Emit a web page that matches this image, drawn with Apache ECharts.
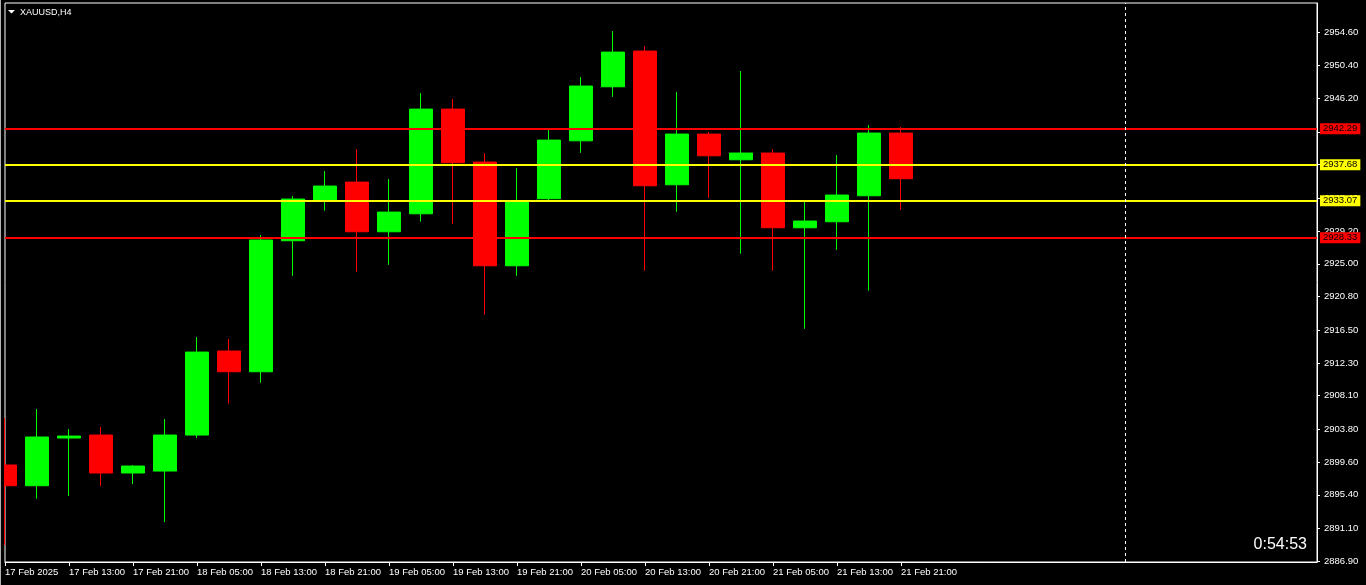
<!DOCTYPE html>
<html><head><meta charset="utf-8">
<script src="https://cdn.jsdelivr.net/npm/echarts@6/dist/echarts.min.js"></script>
<style>html,body{margin:0;padding:0;background:#000;}#c{width:1366px;height:585px;}</style>
</head><body><div id="c"></div>
<script>
// ---- data ----
const times = ["17 Feb 2025","17 Feb 09:00","17 Feb 13:00","17 Feb 17:00","17 Feb 21:00",
  "18 Feb 01:00","18 Feb 05:00","18 Feb 09:00","18 Feb 13:00","18 Feb 17:00","18 Feb 21:00",
  "19 Feb 01:00","19 Feb 05:00","19 Feb 09:00","19 Feb 13:00","19 Feb 17:00","19 Feb 21:00",
  "20 Feb 01:00","20 Feb 05:00","20 Feb 09:00","20 Feb 13:00","20 Feb 17:00","20 Feb 21:00",
  "21 Feb 01:00","21 Feb 05:00","21 Feb 09:00","21 Feb 13:00","21 Feb 17:00","21 Feb 21:00"];
const futureSlots = ["+1","+2","+3","+4","+5","+6","+7","+8","+9","+10","+11","+12","+13"];
const opens  = [2899.22,2896.57,2902.68,2903.06,2898.20,2898.45,2903.06,2913.82,2911.17,2927.95,2933.16,2935.46,2929.10,2931.40,2944.81,2938.03,2924.74,2933.33,2940.75,2947.67,2952.24,2935.12,2941.61,2938.32,2939.18,2929.61,2930.38,2933.71,2941.74];
const closes = [2896.57,2902.81,2902.93,2898.20,2899.09,2903.06,2913.69,2911.17,2928.04,2933.29,2934.95,2929.10,2931.62,2944.81,2937.94,2924.74,2932.94,2940.84,2947.76,2952.11,2934.99,2941.61,2938.83,2939.18,2929.61,2930.47,2933.80,2941.74,2935.89];
const lows   = [2888.97,2894.90,2895.25,2896.53,2896.79,2891.92,2902.68,2907.07,2909.76,2923.46,2931.79,2923.98,2924.87,2930.38,2930.12,2918.47,2923.46,2933.05,2939.22,2946.39,2924.10,2931.66,2933.45,2926.28,2924.10,2916.68,2926.79,2921.54,2931.92];
const highs  = [2905.24,2906.39,2903.83,2904.09,2899.22,2905.11,2915.61,2915.36,2928.68,2933.67,2936.87,2939.69,2935.85,2946.86,2946.09,2939.18,2937.26,2942.25,2948.91,2954.80,2952.88,2946.99,2941.87,2949.68,2939.69,2933.03,2938.92,2942.76,2942.51];
const redLevels = [2942.29, 2928.33];
const yellowLevels = [2937.68, 2933.07];
const priceTicks = [2886.90,2891.10,2895.40,2899.60,2903.80,2908.10,2912.30,2916.50,2920.80,2925.00,2929.20,2933.40,2937.70,2941.90,2946.20,2950.40,2954.60];
const symbolLabel = "XAUUSD,H4";
const timerLabel = "0:54:53";
const shiftLineSlot = 35;

// ---- chart ----
const FONT = "'Liberation Sans', Arial, sans-serif";
const candles = times.map((t, i) => [opens[i], closes[i], lows[i], highs[i]]);
const lastClose = closes[closes.length - 1];
const cats = times.concat(futureSlots);
const showIdx = (i) => i < times.length && i % 2 === 0;

function level(v, color, lineVisible) {
  return {
    yAxis: v,
    lineStyle: { color: color, width: 2, type: 'solid', opacity: lineVisible ? 1 : 0 },
    label: {
      show: true, position: 'end', distance: 3, formatter: v.toFixed(2),
      color: '#000', backgroundColor: color, padding: [1, 3, 0, 3],
      fontSize: 9.5, lineHeight: 10, fontFamily: FONT
    }
  };
}

const markData = [];
redLevels.forEach(v => markData.push(level(v, '#ff0000', true)));
yellowLevels.forEach(v => markData.push(level(v, '#ffff00', true)));
markData.push(level(lastClose, '#ffffff', false));
markData.push({ xAxis: shiftLineSlot, lineStyle: { color: '#ffffff', width: 1, type: [3, 3], opacity: 1 }, label: { show: false } });

const chart = echarts.init(document.getElementById('c'), null, { renderer: 'canvas' });
chart.setOption({
  backgroundColor: '#000',
  animation: false,
  title: [
    { text: symbolLabel, left: 20, top: 8, padding: 0, textStyle: { color: '#fff', fontSize: 9, fontWeight: 'normal', fontFamily: FONT } },
    { text: timerLabel, right: 59, top: 537, padding: 0, textStyle: { color: '#fff', fontSize: 16, fontWeight: 'normal', fontFamily: FONT } }
  ],
  graphic: [
    // mask the part of the first candle that lies left of the chart frame
    { type: 'rect', left: 0, top: 0, z: 100, silent: true, shape: { width: 4, height: 585 }, style: { fill: '#000' } },
    { type: 'rect', left: 0, top: 0, z: 101, silent: true, shape: { width: 1, height: 585 }, style: { fill: '#b0b0b0' } },
    // dropdown marker next to the symbol name
    { type: 'polygon', z: 101, silent: true, shape: { points: [[8, 10], [15, 10], [11.5, 13.5]] }, style: { fill: '#fff' } }
  ],
  grid: { left: 5, top: 3, width: 1312, bottom: 23, show: true, borderColor: '#fff', borderWidth: 1,
          backgroundColor: 'transparent', containLabel: false, outerBoundsMode: 'none' },
  xAxis: {
    type: 'category', data: cats, boundaryGap: false,
    axisLine: { show: true, lineStyle: { color: '#fff', width: 1 } },
    axisTick: { show: true, length: 4, interval: showIdx, lineStyle: { color: '#fff' } },
    axisLabel: { interval: showIdx, align: 'left', margin: 5, color: '#fff', fontSize: 9.5, fontFamily: FONT },
    splitLine: { show: false }
  },
  yAxis: {
    type: 'value', position: 'right', min: 2886.8, max: 2958.4,
    axisLine: { show: true, lineStyle: { color: '#fff', width: 1 } },
    axisTick: { show: true, length: 3, customValues: priceTicks, lineStyle: { color: '#fff' } },
    axisLabel: { customValues: priceTicks, formatter: v => Number(v).toFixed(2), color: '#fff', fontSize: 9.5, margin: 7, fontFamily: FONT },
    splitLine: { show: false }
  },
  series: [{
    type: 'candlestick', data: candles, barWidth: 24, clip: true,
    itemStyle: { color: '#00ff00', color0: '#ff0000', borderColor: '#00ff00', borderColor0: '#ff0000', borderWidth: 1 },
    markLine: { symbol: 'none', silent: true, animation: false, precision: 2, data: markData }
  }]
});
</script></body></html>
